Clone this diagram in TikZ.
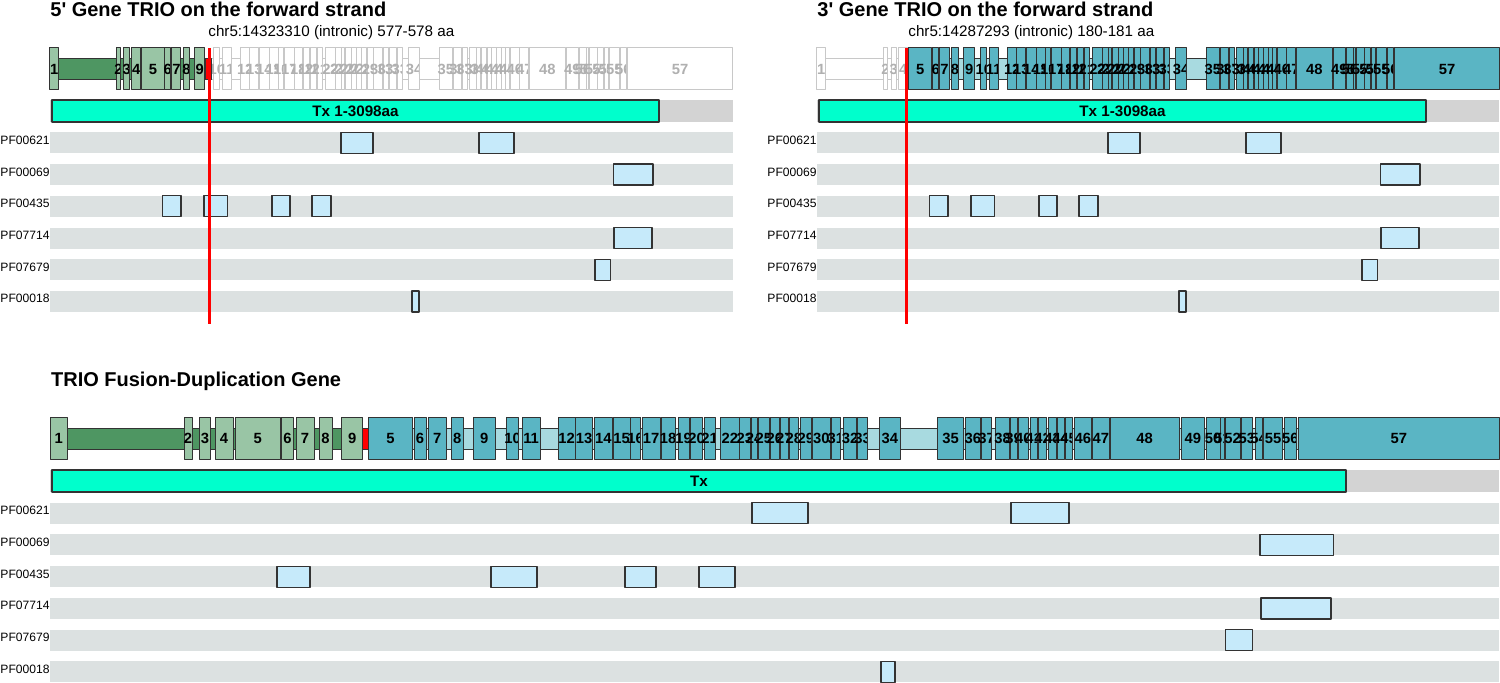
\documentclass[tikz,border=0pt]{standalone}
\usepackage{fontspec}
\setmainfont{Liberation Sans}
\definecolor{exgreen}{HTML}{99C5A5}
\definecolor{ingreen}{HTML}{4E9662}
\definecolor{exteal}{HTML}{5AB5C4}
\definecolor{inteal}{HTML}{A8DAE0}
\definecolor{txcyan}{HTML}{00FFCC}
\definecolor{txgray}{HTML}{D3D3D3}
\definecolor{rowgray}{HTML}{DCE1E1}
\definecolor{domblue}{HTML}{C6EAFA}
\definecolor{outline}{HTML}{333333}
\definecolor{faded}{HTML}{C8C8C8}
\definecolor{fadedtext}{HTML}{B0B0B0}

% exon list, exon style, intron style, label colour, y offset, start of first intron, name prefix
\newcommand{\exonrow}[7]{%
  \foreach \a/\b/\n [remember=\b as \pb (initially #6)] in #1 {
    \draw[#3] (\pb,59+#5) rectangle (\a,80+#5);
    \draw[#2] (\a,48+#5) rectangle (\b,90+#5);
    \node[exlabel,text=#4] (#7-\n) at ({(\a+\b)/2},69+#5) {\n};
  }}
% left end, right end, y offset, name prefix
\newcommand{\pfrows}[4]{%
  \foreach \p [count=\i from 0] in {PF00621,PF00069,PF00435,PF07714,PF07679,PF00018} {
    \fill[rowgray] (#1,132.3+31.74*\i+#3) rectangle (#2,153.3+31.74*\i+#3);
    \node[pflabel] (#4-\i) at (#1,144.3+31.74*\i+#3) {\p};
  }}

\begin{document}
\begin{tikzpicture}[x=0.5pt,y=-0.5pt,line join=round,
    exlabel/.style={font=\bfseries\fontsize{7.4}{8}\selectfont,inner sep=0pt},
    greenex/.style={fill=exgreen,draw=outline,line width=0.5pt},
    greenin/.style={fill=ingreen,draw=outline,line width=0.5pt},
    tealex/.style={fill=exteal,draw=outline,line width=0.5pt},
    tealin/.style={fill=inteal,draw=outline,line width=0.5pt},
    blankex/.style={fill=white,draw=faded,line width=0.5pt},
    fusion/.style={fill=red,draw=outline,line width=0.5pt},
    txbar/.style={fill=txcyan,draw=outline,line width=0.7pt},
    txlabel/.style={font=\bfseries\fontsize{7.6}{8}\selectfont,inner sep=0pt},
    pfbox/.style={fill=domblue,draw=outline,line width=0.6pt},
    pflabel/.style={anchor=base east,font=\fontsize{6.05}{7}\selectfont,inner sep=0pt},
    heading/.style={anchor=base west,font=\bfseries\fontsize{10}{12}\selectfont,inner sep=0pt},
    subheading/.style={anchor=base west,font=\fontsize{7.6}{9}\selectfont,inner sep=0pt},
    cut/.style={red,line width=1.5pt}]
  \useasboundingbox (0,0) rectangle (1500,683);
  % exons, in fusion-gene pixels
  \def\fiveA{50/67.3/1, 184/192/2, 199.3/210.7/3, 215/233/4}
  \def\fiveB{235/280.7/5, 281.7/293.3/6, 296/314/7, 319/332/8, 341.7/362.7/9}
  \def\threeA{368.3/412.7/5, 414/426/6, 428.3/446/7, 451/463.3/8, 473.3/495/9}
  \def\threeB{506.7/518.3/10, 522.3/540/11, 558.3/575/12, 575.7/592.7/13, 594.3/612.3/14,
    613.3/630/15, 630.5/640.7/16, 642.3/660/17, 661/675.3/18, 678/689/19, 690.7/702.3/20,
    704/715/21, 720.7/739/22, 739.5/750/23, 751/757.3/24, 758.3/769.3/25, 770/779.5/26,
    780.3/788.3/27, 789.3/798.3/28, 800/811.7/29, 812.7/830/30, 831/840.7/31, 843.3/856.7/32,
    857.7/867.7/33, 879/900.7/34, 937.7/963.3/35, 965/980.7/36, 981.7/991.7/37, 995.7/1009.3/38,
    1010/1017.3/39, 1018.3/1028.3/40, 1030/1037.3/41, 1038.3/1046.7/42, 1048.3/1056.7/43,
    1057.3/1064/44, 1065/1072.3/45, 1074/1091.7/46, 1092.3/1109.3/47, 1110/1179.3/48,
    1181.7/1204/49, 1206/1220/50, 1220.5/1224/51, 1225/1240/52, 1241/1252.7/53,
    1255/1262.3/54, 1263.3/1282.7/55, 1284/1296.7/56, 1298.3/1499.3/57}
  % domains: row/from/to
  \def\topdomains{0/341/373, 0/479/514, 1/613.3/653, 2/162.3/181, 2/204/227.7, 2/272/290,
    2/312/331, 3/614/652, 4/595/610.3, 5/412/419}
  \def\fusdomains{0/752/808, 0/1011/1069, 1/1260/1333.7, 2/277/310, 2/491/537, 2/625/656,
    2/699/735, 3/1261/1331, 4/1225.7/1252.7, 5/881/895}

  % 5' gene
  \node[heading] (head5) at (50,16.7) {5\textquotesingle{} Gene TRIO on the forward strand};
  \node[subheading] (sub5) at (208,36.7) {chr5:14323310 (intronic) 577-578 aa};
  \begin{scope}[shift={(25.2,0)},xscale=0.4957]
    \exonrow{\fiveA}{greenex}{greenin}{black}{0}{50}{a}
    \exonrow{\fiveB}{greenex}{greenin}{black}{0}{233}{b}
  \end{scope}
  \begin{scope}[shift={(-50.84,0)},xscale=0.5225]
    \exonrow{\threeB}{blankex}{blankex}{fadedtext}{0}{495}{c}
  \end{scope}
  \draw[fusion] (205,59) rectangle (211.7,80);
  \fill[txgray] (50,100) rectangle (733,122);
  \draw[txbar] (52,100) rectangle (659,122);
  \node[txlabel] (tx5) at (355.5,111) {Tx 1-3098aa};
  \pfrows{50}{733}{0}{p5}
  \foreach \r/\a/\b in \topdomains
    \draw[pfbox] (\a,132.3+31.74*\r) rectangle (\b,153.3+31.74*\r);

  % 3' gene
  \node[heading] (head3) at (817,16.7) {3\textquotesingle{} Gene TRIO on the forward strand};
  \node[subheading] (sub3) at (908,36.7) {chr5:14287293 (intronic) 180-181 aa};
  \begin{scope}[shift={(792.2,0)},xscale=0.4957]
    \exonrow{\fiveA}{blankex}{blankex}{fadedtext}{0}{50}{d}
  \end{scope}
  \begin{scope}[shift={(716.16,0)},xscale=0.5225]
    \exonrow{\threeA}{tealex}{tealin}{black}{0}{368.3}{e}
    \exonrow{\threeB}{tealex}{tealin}{black}{0}{495}{f}
  \end{scope}
  \fill[txgray] (817,100) rectangle (1499,122);
  \draw[txbar] (819,100) rectangle (1426,122);
  \node[txlabel] (tx3) at (1122.5,111) {Tx 1-3098aa};
  \pfrows{817}{1499}{0}{p3}
  \begin{scope}[shift={(767,0)}]
    \foreach \r/\a/\b in \topdomains
      \draw[pfbox] (\a,132.3+31.74*\r) rectangle (\b,153.3+31.74*\r);
  \end{scope}

  \draw[cut] (209.3,48) -- (209.3,324.3);
  \draw[cut] (906.7,48) -- (906.7,324.3);

  % fusion gene
  \node[heading] (headF) at (50.7,386.7) {TRIO Fusion-Duplication Gene};
  \exonrow{\fiveA}{greenex}{greenin}{black}{369.5}{50}{g}
  \exonrow{\fiveB}{greenex}{greenin}{black}{369.5}{233}{h}
  \draw[fusion] (362.7,428.5) rectangle (368.3,449.5);
  \exonrow{\threeA}{tealex}{tealin}{black}{369.5}{368.3}{i}
  \exonrow{\threeB}{tealex}{tealin}{black}{369.5}{495}{j}
  \fill[txgray] (50,470) rectangle (1499,492);
  \draw[txbar] (52,470) rectangle (1346,492);
  \node[txlabel] (txF) at (699,481) {Tx};
  \pfrows{50}{1499}{370.4}{pF}
  \foreach \r/\a/\b in \fusdomains
    \draw[pfbox] (\a,502.7+31.74*\r) rectangle (\b,523.7+31.74*\r);
\end{tikzpicture}
\end{document}
